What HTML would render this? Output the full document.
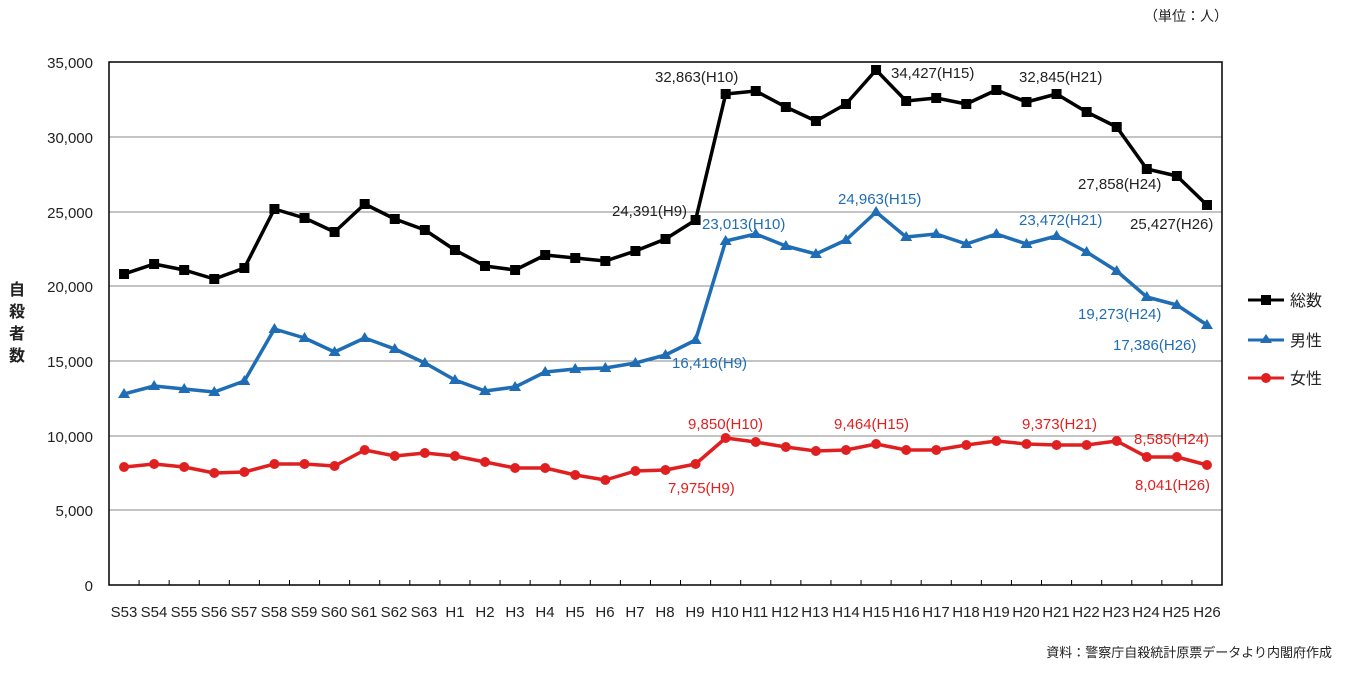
<!DOCTYPE html>
<html><head><meta charset="utf-8"><style>
body{margin:0;background:#fff;}
svg{display:block;font-family:"Liberation Sans","Noto Sans CJK JP",sans-serif;}
</style></head><body>
<svg id="s" width="1350" height="678" viewBox="0 0 1350 678">
<g stroke="#888" stroke-width="1">
<line x1="109" y1="510" x2="1222" y2="510"/><line x1="109" y1="436" x2="1222" y2="436"/>
<line x1="109" y1="361" x2="1222" y2="361"/><line x1="109" y1="286" x2="1222" y2="286"/>
<line x1="109" y1="212" x2="1222" y2="212"/><line x1="109" y1="137" x2="1222" y2="137"/>
</g>
<rect x="109" y="62" width="1113" height="523" fill="none" stroke="#000" stroke-width="1.5"/>
<g id="ticks" stroke="#000" stroke-width="1"></g>
<g font-size="15" fill="#222" text-anchor="end">
<text x="93" y="68">35,000</text><text x="93" y="143">30,000</text><text x="93" y="218">25,000</text>
<text x="93" y="292">20,000</text><text x="93" y="367">15,000</text><text x="93" y="442">10,000</text>
<text x="93" y="516">5,000</text><text x="93" y="591">0</text>
</g>
<g font-size="16" font-weight="bold" fill="#222" text-anchor="middle">
<text x="17" y="295">自</text><text x="17" y="317">殺</text><text x="17" y="339">者</text><text x="17" y="361">数</text>
</g>
<g id="xl" font-size="15" fill="#222" text-anchor="middle"></g>
<text x="1228" y="21" font-size="14" fill="#222" text-anchor="end">（単位：人）</text>
<text x="1332" y="657" font-size="13" fill="#222" text-anchor="end">資料：警察庁自殺統計原票データより内閣府作成</text>
<g id="lines"></g>
<g font-size="15" fill="#222">
<text x="612" y="216">24,391(H9)</text>
<text x="655" y="82">32,863(H10)</text>
<text x="891" y="78">34,427(H15)</text>
<text x="1019" y="82">32,845(H21)</text>
<text x="1078" y="189">27,858(H24)</text>
<text x="1130" y="229">25,427(H26)</text>
</g>
<g font-size="15" fill="#1f6db4">
<text x="702" y="229">23,013(H10)</text>
<text x="838" y="204">24,963(H15)</text>
<text x="1019" y="225">23,472(H21)</text>
<text x="1078" y="319">19,273(H24)</text>
<text x="1113" y="350">17,386(H26)</text>
<text x="672" y="368">16,416(H9)</text>
</g>
<g font-size="15" fill="#e02020">
<text x="688" y="429">9,850(H10)</text>
<text x="834" y="429">9,464(H15)</text>
<text x="1022" y="429">9,373(H21)</text>
<text x="1134" y="444">8,585(H24)</text>
<text x="1135" y="490">8,041(H26)</text>
<text x="668" y="493">7,975(H9)</text>
</g>
<g font-size="16" fill="#222">
<line x1="1248" y1="300" x2="1284" y2="300" stroke="#000" stroke-width="3"/><rect x="1261" y="295" width="10" height="10" fill="#000"/>
<text x="1290" y="306">総数</text>
<line x1="1248" y1="340" x2="1284" y2="340" stroke="#1f6db4" stroke-width="3"/><polygon points="1266,334 1272,343 1260,343" fill="#1f6db4"/>
<text x="1290" y="346">男性</text>
<line x1="1248" y1="378" x2="1284" y2="378" stroke="#e02020" stroke-width="3"/><circle cx="1266" cy="378" r="5" fill="#e02020"/>
<text x="1290" y="384">女性</text>
</g>
<g font-size="15" fill="#222" text-anchor="middle">
<text x="124" y="617">S53</text><text x="154" y="617">S54</text><text x="184" y="617">S55</text><text x="214" y="617">S56</text><text x="244" y="617">S57</text><text x="274" y="617">S58</text><text x="304" y="617">S59</text><text x="334" y="617">S60</text><text x="364" y="617">S61</text><text x="394" y="617">S62</text><text x="424" y="617">S63</text><text x="455" y="617">H1</text><text x="485" y="617">H2</text><text x="515" y="617">H3</text><text x="545" y="617">H4</text><text x="575" y="617">H5</text><text x="605" y="617">H6</text><text x="635" y="617">H7</text><text x="665" y="617">H8</text><text x="695" y="617">H9</text><text x="725" y="617">H10</text><text x="755" y="617">H11</text><text x="785" y="617">H12</text><text x="815" y="617">H13</text><text x="846" y="617">H14</text><text x="876" y="617">H15</text><text x="906" y="617">H16</text><text x="936" y="617">H17</text><text x="966" y="617">H18</text><text x="996" y="617">H19</text><text x="1026" y="617">H20</text><text x="1056" y="617">H21</text><text x="1086" y="617">H22</text><text x="1116" y="617">H23</text><text x="1146" y="617">H24</text><text x="1176" y="617">H25</text><text x="1207" y="617">H26</text>
</g>
</svg>
<script>
var NS="http://www.w3.org/2000/svg";
function el(t,a,p){var e=document.createElementNS(NS,t);for(var k in a)e.setAttribute(k,a[k]);p.appendChild(e);return e;}
var W=1113/37,X0=109;
var tk=document.getElementById('ticks');
for(var i=1;i<37;i++){var x=X0+i*W;el('line',{x1:x,y1:580,x2:x,y2:585},tk);}
var T=[274,264,270,279,268,209,218,232,204,219,230,250,266,270,255,258,261,251,239,220,94,91,107,121,104,70,101,98,104,90,102,94,112,127,169,176,205];
var M=[394,386,389,392,381,329,338,352,338,349,363,380,391,387,372,369,368,363,355,340,241,234,246,254,240,212,237,234,244,234,244,236,252,271,297,305,325];
var F=[467,464,467,473,472,464,464,466,450,456,453,456,462,468,468,475,480,471,470,464,438,442,447,451,450,444,450,450,445,441,444,445,445,441,457,457,465];
var g=document.getElementById('lines');
function series(d,c,m){var p=d.map(function(y,i){return (X0+W*(i+.5)).toFixed(1)+','+y}).join(' ');
el('polyline',{points:p,fill:'none',stroke:c,'stroke-width':3.5,'stroke-linejoin':'round'},g);
d.forEach(function(y,i){var x=X0+W*(i+.5);
if(m=='s')el('rect',{x:x-5,y:y-5,width:10,height:10,fill:c},g);
else if(m=='t')el('polygon',{points:(x)+','+(y-6)+' '+(x+6)+','+(y+4)+' '+(x-6)+','+(y+4),fill:c},g);
else el('circle',{cx:x,cy:y,r:5,fill:c},g);});}
series(F,'#e02020','c');series(M,'#1f6db4','t');series(T,'#000','s');
</script>
</body></html>
